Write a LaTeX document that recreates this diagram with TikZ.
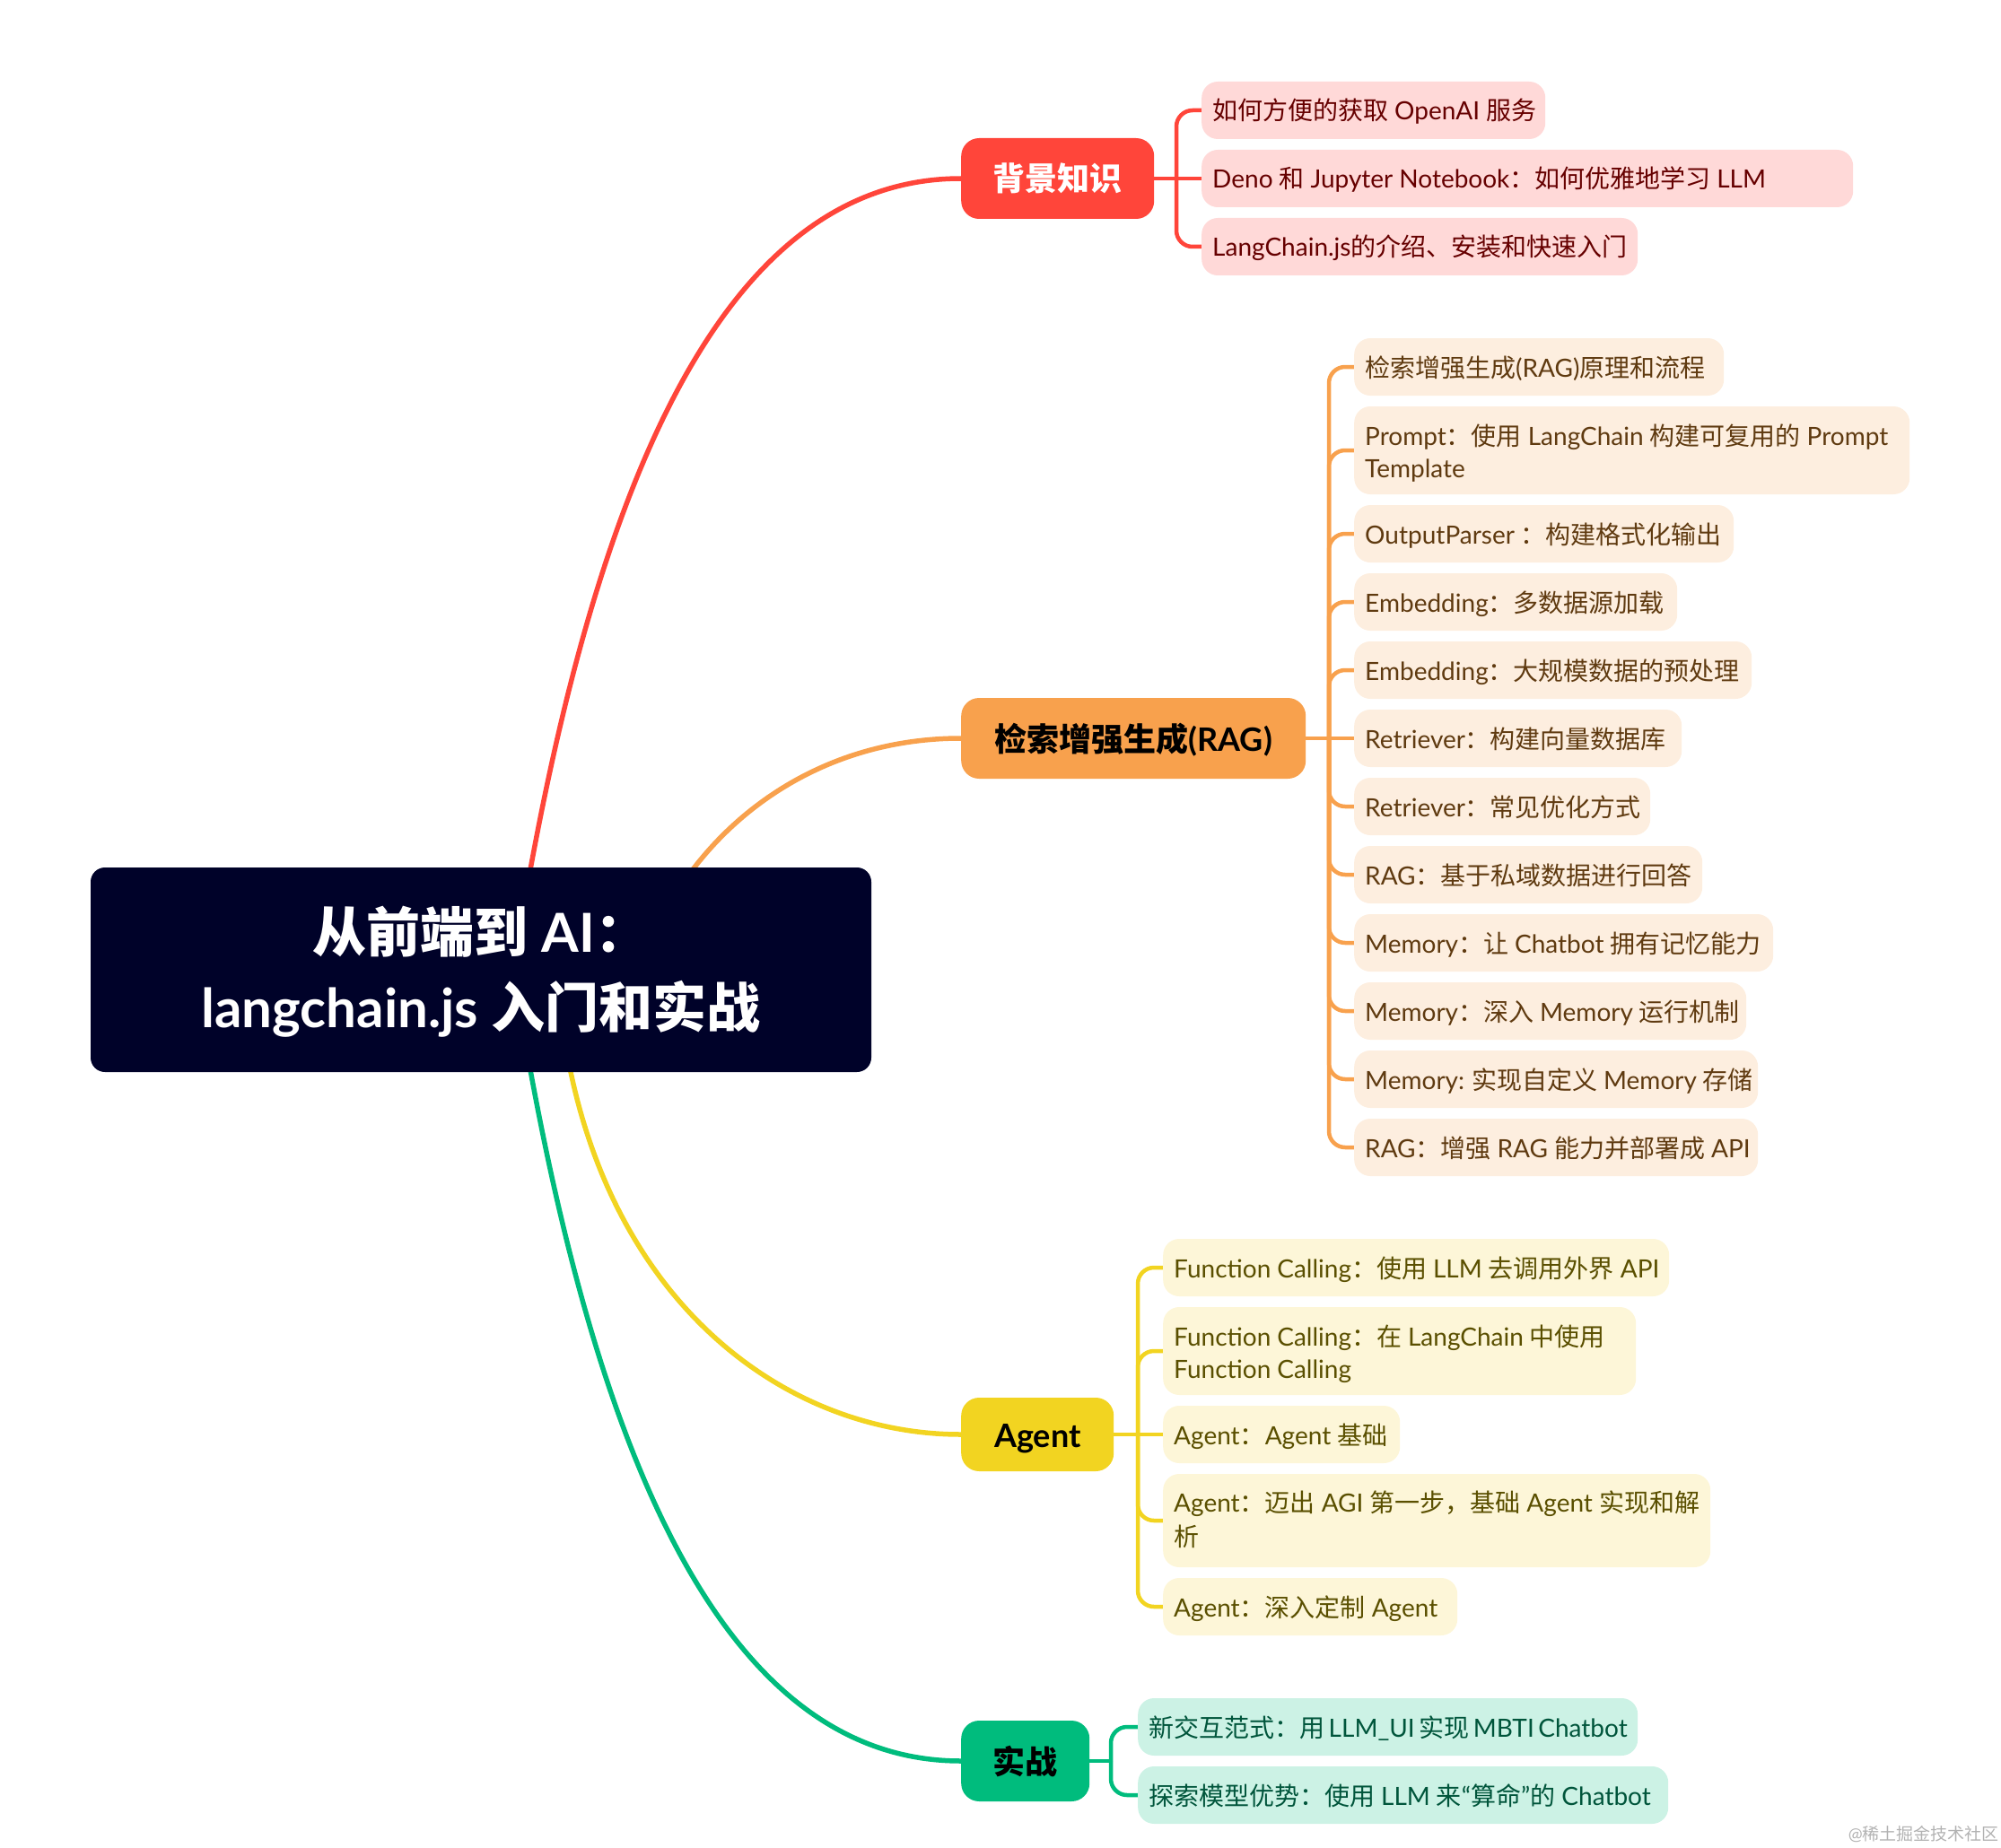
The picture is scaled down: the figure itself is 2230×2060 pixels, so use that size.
\documentclass[tikz,border=0pt]{standalone}
\usepackage{fontspec}
\setmainfont{Lato}
\newfontfamily\cjk{Noto Sans CJK SC}
\newcommand{\cn}[1]{{\cjk #1}}
\usetikzlibrary{backgrounds}
\definecolor{RootDark}{HTML}{000229}
\definecolor{RedLine}{HTML}{FF453A}
\definecolor{RedFill}{HTML}{FFD9D8}
\definecolor{RedText}{HTML}{660000}
\definecolor{OrangeLine}{HTML}{F8A14D}
\definecolor{OrangeFill}{HTML}{FDEEDF}
\definecolor{OrangeText}{HTML}{5F3A10}
\definecolor{YellowLine}{HTML}{F2D421}
\definecolor{YellowFill}{HTML}{FDF6D8}
\definecolor{YellowText}{HTML}{5A4F00}
\definecolor{GreenLine}{HTML}{00BC7D}
\definecolor{GreenFill}{HTML}{CCF2E5}
\definecolor{GreenText}{HTML}{00553B}
\tikzset{
    rootnode/.style={fill=RootDark, text=white, rounded corners=16pt, minimum width=870pt, minimum height=228pt, inner sep=0pt, align=center, text height=140pt, text depth=12pt, font=\fontsize{60}{84}\selectfont\bfseries},
    topic/.style={anchor=west, rounded corners=20pt, minimum height=90pt, inner sep=0pt, text height=36pt, text depth=8pt, font=\fontsize{36}{44}\selectfont\bfseries},
    leaf/.style={anchor=west, rounded corners=18pt, minimum height=64pt, inner xsep=12pt, inner ysep=17pt, text height=25pt, text depth=3pt, align=left, font=\fontsize{28}{36}\selectfont, execute at begin node={\spaceskip=7pt\relax}},
    twolines/.style={minimum height=98pt, text depth=37pt},
    redleaf/.style={leaf, fill=RedFill, text=RedText},
    orangeleaf/.style={leaf, fill=OrangeFill, text=OrangeText},
    yellowleaf/.style={leaf, fill=YellowFill, text=YellowText},
    greenleaf/.style={leaf, fill=GreenFill, text=GreenText},
    branch/.style={line width=5.5pt},
    stem/.style={line width=4.5pt},
    bracket/.style={line width=4.5pt, rounded corners=18pt}
}
\begin{document}
\begin{tikzpicture}[x=1pt, y=-1pt]
        \useasboundingbox (0,0) rectangle (2230,2060);
        \node[rootnode] (Root) at (536,1081) {\cn{从前端到} AI\cn{：}\\langchain.js \cn{入门和实战}};

        \node[topic, fill=RedLine, text=white, minimum width=215pt] (BG) at (1071,199) {\cn{背景知识}};
        \node[redleaf, text width=359pt] (BG1) at (1339,123) {\mbox{\cn{如何方便的获取} OpenAI \cn{服务}}};
        \node[redleaf, text width=702pt] (BG2) at (1339,199) {\mbox{Deno \cn{和} Jupyter Notebook\cn{：如何优雅地学习} LLM}};
        \node[redleaf, text width=462pt] (BG3) at (1339,275) {\mbox{LangChain.js\cn{的介绍、安装和快速入门}}};

        \node[topic, fill=OrangeLine, text=black, minimum width=384pt] (RAG) at (1071,823) {\cn{检索增强生成}(RAG)};
        \node[orangeleaf, text width=388pt] (RAG1) at (1509,409) {\mbox{\cn{检索增强生成}(RAG)\cn{原理和流程}}};
        \node[orangeleaf, twolines, text width=595pt] (RAG2) at (1509,502) {\mbox{Prompt\cn{：使用} LangChain \cn{构建可复用的} Prompt}\\Template};
        \node[orangeleaf, text width=399pt] (RAG3) at (1509,595) {\mbox{OutputParser \cn{：构建格式化输出}}};
        \node[orangeleaf, text width=336pt] (RAG4) at (1509,671) {\mbox{Embedding\cn{：多数据源加载}}};
        \node[orangeleaf, text width=419pt] (RAG5) at (1509,747) {\mbox{Embedding\cn{：大规模数据的预处理}}};
        \node[orangeleaf, text width=341pt] (RAG6) at (1509,823) {\mbox{Retriever\cn{：构建向量数据库}}};
        \node[orangeleaf, text width=306pt] (RAG7) at (1509,899) {\mbox{Retriever\cn{：常见优化方式}}};
        \node[orangeleaf, text width=364pt] (RAG8) at (1509,975) {\mbox{RAG\cn{：基于私域数据进行回答}}};
        \node[orangeleaf, text width=443pt] (RAG9) at (1509,1051) {\mbox{Memory\cn{：让} Chatbot \cn{拥有记忆能力}}};
        \node[orangeleaf, text width=413pt] (RAG10) at (1509,1127) {\mbox{Memory\cn{：深入} Memory \cn{运行机制}}};
        \node[orangeleaf, text width=426pt] (RAG11) at (1509,1203) {\mbox{Memory:\hspace{-6pt} \cn{实现自定义} Memory \cn{存储}}};
        \node[orangeleaf, text width=426pt] (RAG12) at (1509,1279) {\mbox{RAG\cn{：增强} RAG \cn{能力并部署成} API}};

        \node[topic, fill=YellowLine, text=black, minimum width=170pt, minimum height=82pt] (AG) at (1071,1599) {Agent};
        \node[yellowleaf, text width=540pt] (AG1) at (1296,1413) {\mbox{Function Calling\cn{：使用} LLM \cn{去调用外界} API}};
        \node[yellowleaf, twolines, text width=503pt] (AG2) at (1296,1506) {\mbox{Function Calling\cn{：在} LangChain \cn{中使用}}\\Function Calling};
        \node[yellowleaf, text width=240pt] (AG3) at (1296,1599) {\mbox{Agent\cn{：}Agent \cn{基础}}};
        \node[yellowleaf, twolines, text width=586pt, minimum height=104pt, text depth=45pt] (AG4) at (1296,1695) {\mbox{Agent\cn{：迈出} AGI \cn{第一步，基础} Agent \cn{实现和解}}\\[2pt]\cn{析}};
        \node[yellowleaf, text width=304pt] (AG5) at (1296,1791) {\mbox{Agent\cn{：深入定制} Agent}};

        \node[topic, fill=GreenLine, text=black, minimum width=143pt] (PR) at (1071,1963) {\cn{实战}};
        \node[greenleaf, text width=533pt] (PR1) at (1268,1925) {\mbox{\spaceskip=4.5pt\cn{新交互范式：用} LLM\_UI \cn{实现} MBTI Chatbot}};
        \node[greenleaf, text width=567pt] (PR2) at (1268,2001) {\mbox{\cn{探索模型优势：使用} LLM \cn{来}“\cn{算命}”\cn{的} Chatbot}};

        \node[anchor=east, text=black!30, inner sep=0pt, font=\fontsize{19}{22}\selectfont] (Mark) at (2228,2045) {@\cn{稀土掘金技术社区}};

        \coordinate (BGstart) at (590,975);
        \coordinate (RAGstart) at (770,972);
        \coordinate (AGstart) at (635,1190);
        \coordinate (PRstart) at (590,1187);
        \coordinate (BGtrunk) at (1311,199);
        \coordinate (RAGtrunk) at (1481,823);
        \coordinate (AGtrunk) at (1268,1599);
        \coordinate (PRtrunk) at (1238,1963);

        \begin{scope}[on background layer]
            \draw[branch, RedLine] (BGstart) .. controls (680,480) and (830,199) .. (BG.west);
            \draw[branch, OrangeLine] (RAGstart) .. controls (835,885) and (940,823) .. (RAG.west);
            \draw[branch, YellowLine] (AGstart) .. controls (690,1460) and (880,1599) .. (AG.west);
            \draw[branch, GreenLine] (PRstart) .. controls (680,1682) and (830,1963) .. (PR.west);

            \draw[stem, RedLine] (BG.east) -- (BG2.west);
            \draw[bracket, RedLine] (BGtrunk) |- (BG1.west);
            \draw[bracket, RedLine] (BGtrunk) |- (BG3.west);

            \draw[stem, OrangeLine] (RAG.east) -- (RAG6.west);
            \draw[bracket, OrangeLine] (RAGtrunk) |- (RAG1.west);
            \draw[bracket, OrangeLine] (RAGtrunk) |- (RAG2.west);
            \draw[bracket, OrangeLine] (RAGtrunk) |- (RAG3.west);
            \draw[bracket, OrangeLine] (RAGtrunk) |- (RAG4.west);
            \draw[bracket, OrangeLine] (RAGtrunk) |- (RAG5.west);
            \draw[bracket, OrangeLine] (RAGtrunk) |- (RAG7.west);
            \draw[bracket, OrangeLine] (RAGtrunk) |- (RAG8.west);
            \draw[bracket, OrangeLine] (RAGtrunk) |- (RAG9.west);
            \draw[bracket, OrangeLine] (RAGtrunk) |- (RAG10.west);
            \draw[bracket, OrangeLine] (RAGtrunk) |- (RAG11.west);
            \draw[bracket, OrangeLine] (RAGtrunk) |- (RAG12.west);

            \draw[stem, YellowLine] (AG.east) -- (AG3.west);
            \draw[bracket, YellowLine] (AGtrunk) |- (AG1.west);
            \draw[bracket, YellowLine] (AGtrunk) |- (AG2.west);
            \draw[bracket, YellowLine] (AGtrunk) |- (AG4.west);
            \draw[bracket, YellowLine] (AGtrunk) |- (AG5.west);

            \draw[stem, GreenLine] (PR.east) -- (PRtrunk);
            \draw[bracket, GreenLine] (PRtrunk) |- (PR1.west);
            \draw[bracket, GreenLine] (PRtrunk) |- (PR2.west);
        \end{scope}
    \end{tikzpicture}
\end{document}
